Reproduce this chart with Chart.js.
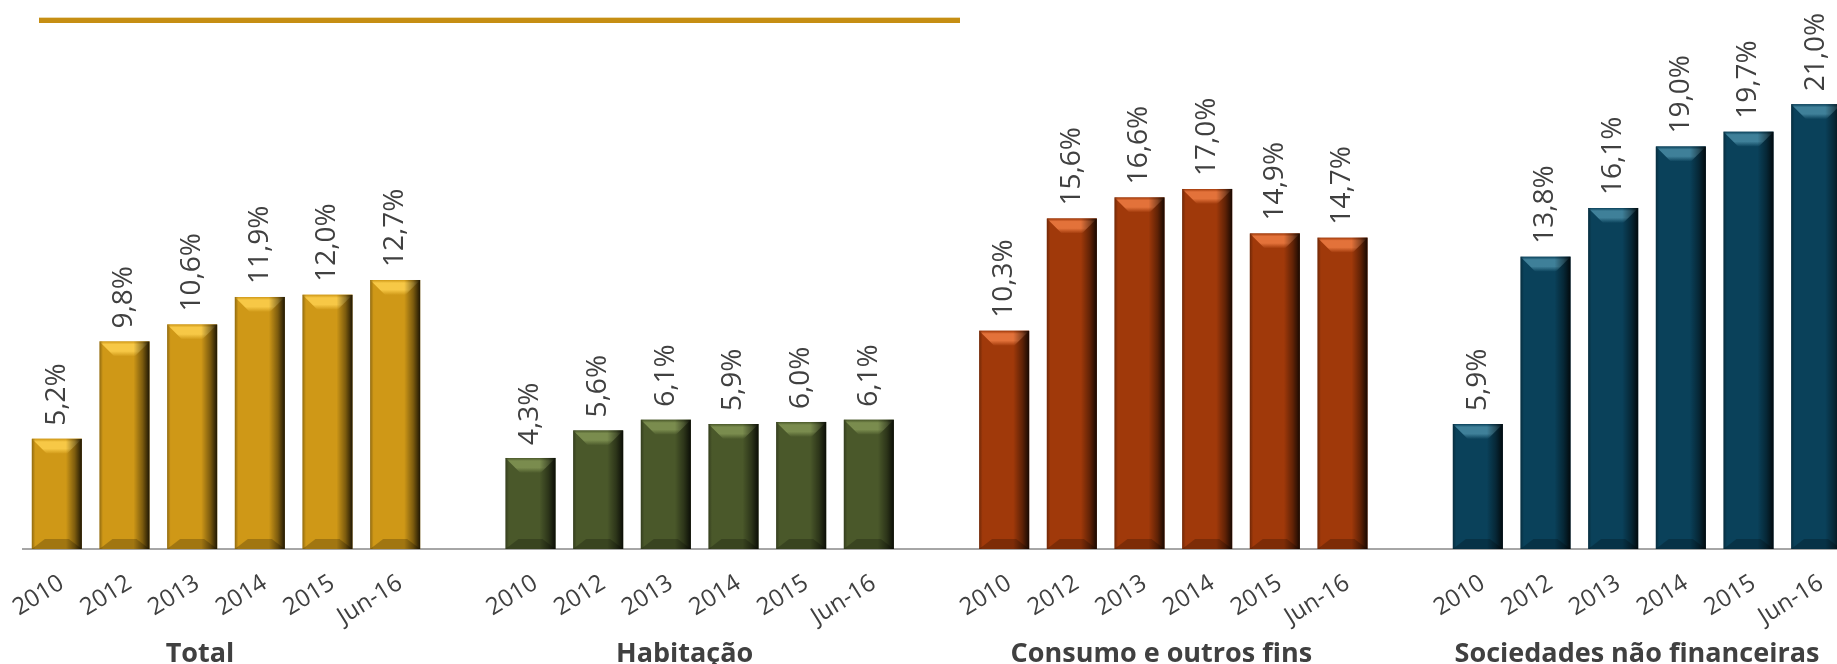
<!DOCTYPE html>
<html lang="pt">
<head>
<meta charset="utf-8">
<title>Rácio de crédito em risco por setor</title>
<script src="https://cdn.jsdelivr.net/npm/chart.js@4.4.1/dist/chart.umd.min.js"></script>
<style>
  html, body { margin: 0; padding: 0; background: #fff; overflow: hidden; }
  #wrap { position: relative; width: 1850px; height: 664px; }
  .rule {
    position: absolute; left: 39px; top: 17px; width: 921px; height: 6px;
    background: #C68E13; border-top: 1px solid #EAD9AE; box-sizing: border-box;
  }
</style>
</head>
<body>
<div id="wrap">
  <div class="rule"></div>
  <canvas id="chart"></canvas>
</div>
<script>
// ---- data ----
const periods = ['2010', '2012', '2013', '2014', '2015', 'Jun-16'];
const groupNames = ['Total', 'Habitação', 'Consumo e outros fins', 'Sociedades não financeiras'];
const totalValues = [5.2, 9.8, 10.6, 11.9, 12.0, 12.7];
const habitacaoValues = [4.3, 5.6, 6.1, 5.9, 6.0, 6.1];
const consumoValues = [10.3, 15.6, 16.6, 17.0, 14.9, 14.7];
const sociedadesValues = [5.9, 13.8, 16.1, 19.0, 19.7, 21.0];

// ---- styling ----
const GROUP_COLORS = [
  { base: '#CF9817', light: '#F7C846' },
  { base: '#4A582A', light: '#7A8C4E' },
  { base: '#A0390A', light: '#E3723A' },
  { base: '#0A415A', light: '#3F8099' },
];
const TITLE_SHIFT = [-26, -15, -12, -10];
const TEXT = '#404040';
const FONT = '"Open Sans", sans-serif';

const groups = [totalValues, habitacaoValues, consumoValues, sociedadesValues];
const STRIDE = periods.length + 1; // one empty slot between groups

// category labels with a blank slot between groups
const labels = [];
groups.forEach((g, gi) => {
  periods.forEach(p => labels.push(p));
  if (gi < groups.length - 1) labels.push('');
});

const datasets = groups.map((values, gi) => {
  const data = labels.map(() => null);
  values.forEach((v, i) => { data[gi * STRIDE + i] = v; });
  return {
    label: groupNames[gi],
    data,
    backgroundColor: GROUP_COLORS[gi].base,
    borderWidth: 0,
    grouped: false,
    categoryPercentage: 1,
    barPercentage: 0.74,
  };
});

function fmt(v) {
  return v.toFixed(1).replace('.', ',') + '%';
}

// bevel look + rotated value labels + group titles
const decorate = {
  id: 'decorate',
  afterDatasetsDraw(chart) {
    const ctx = chart.ctx;
    chart.data.datasets.forEach((ds, di) => {
      const col = GROUP_COLORS[di];
      chart.getDatasetMeta(di).data.forEach((bar, i) => {
        if (ds.data[i] == null) return;
        const { x, y, base, width } = bar.getProps(['x', 'y', 'base', 'width'], true);
        const l = x - width / 2, r = x + width / 2;
        const b = Math.min(15, (base - y) / 2);
        ctx.save();

        // top bevel
        let g = ctx.createLinearGradient(0, y, 0, y + b);
        g.addColorStop(0, col.base);
        g.addColorStop(0.2, col.light);
        g.addColorStop(0.65, col.light);
        g.addColorStop(1, col.base);
        ctx.fillStyle = g;
        ctx.beginPath();
        ctx.moveTo(l, y); ctx.lineTo(r, y);
        ctx.lineTo(r - b, y + b); ctx.lineTo(l + b, y + b);
        ctx.closePath(); ctx.fill();

        // bottom bevel
        const bb = Math.min(10, (base - y) / 3);
        ctx.fillStyle = 'rgba(0,0,0,0.22)';
        ctx.beginPath();
        ctx.moveTo(l, base); ctx.lineTo(r, base);
        ctx.lineTo(r - bb * 1.3, base - bb); ctx.lineTo(l + bb * 1.3, base - bb);
        ctx.closePath(); ctx.fill();

        // side shading
        g = ctx.createLinearGradient(l, 0, r, 0);
        g.addColorStop(0, 'rgba(0,0,0,0.3)');
        g.addColorStop(0.07, 'rgba(0,0,0,0)');
        g.addColorStop(0.68, 'rgba(0,0,0,0)');
        g.addColorStop(0.86, 'rgba(0,0,0,0.4)');
        g.addColorStop(1, 'rgba(0,0,0,0.85)');
        ctx.fillStyle = g;
        ctx.fillRect(l, y, width, base - y);

        // value label
        ctx.translate(x, y - 13);
        ctx.rotate(-Math.PI / 2);
        ctx.fillStyle = TEXT;
        ctx.font = '28px ' + FONT;
        ctx.textAlign = 'left';
        ctx.textBaseline = 'middle';
        ctx.fillText(fmt(ds.data[i]), 0, 0);
        ctx.restore();
      });
    });

    // group titles
    const xs = chart.scales.x;
    ctx.save();
    ctx.fillStyle = TEXT;
    ctx.font = 'bold 27px ' + FONT;
    ctx.textAlign = 'center';
    ctx.textBaseline = 'alphabetic';
    groupNames.forEach((name, gi) => {
      const cx = (xs.getPixelForTick(gi * STRIDE) + xs.getPixelForTick(gi * STRIDE + periods.length - 1)) / 2;
      ctx.fillText(name, cx + TITLE_SHIFT[gi], 662);
    });
    ctx.restore();
  }
};

new Chart(document.getElementById('chart'), {
  type: 'bar',
  data: { labels, datasets },
  plugins: [decorate],
  options: {
    responsive: true,
    maintainAspectRatio: false,
    animation: false,
    layout: { padding: { left: 23, top: 83, right: 0, bottom: 0 } },
    plugins: {
      legend: { display: false },
      tooltip: { enabled: false },
    },
    scales: {
      x: {
        offset: true,
        grid: { display: false, drawTicks: false },
        border: { display: true, color: '#A6A6A6', width: 2 },
        ticks: {
          autoSkip: false,
          minRotation: 32,
          maxRotation: 32,
          padding: 20,
          labelOffset: 5,
          color: TEXT,
          font: { family: FONT, size: 24 },
        },
        afterFit(scale) {
          scale.height = 115;
          scale.paddingLeft = 0;
          scale.paddingRight = 0;
        },
      },
      y: {
        display: false,
        min: 0,
        max: 22,
      },
    },
  },
});
</script>
</body>
</html>
